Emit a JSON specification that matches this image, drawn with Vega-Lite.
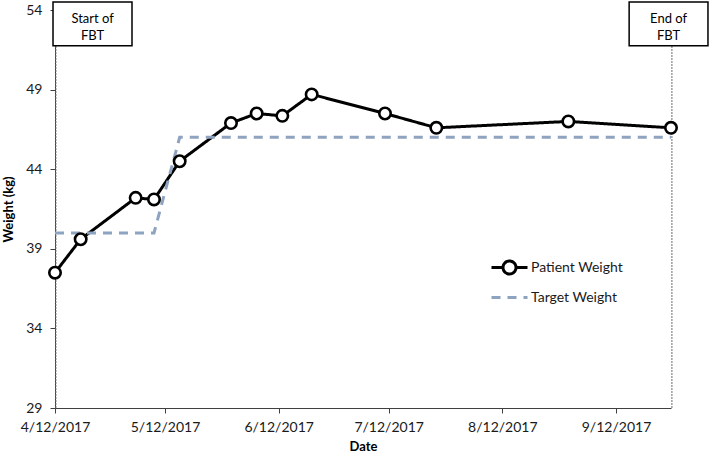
{
  "$schema": "https://vega.github.io/schema/vega-lite/v6.json",
  "width": 616,
  "height": 398,
  "autosize": "none",
  "padding": {"left": 55, "top": 10, "right": 38, "bottom": 51},
  "background": "white",
  "config": {
    "font": "Lato",
    "view": {"stroke": null},
    "axis": {
      "grid": false,
      "domainColor": "#404040",
      "domainWidth": 1,
      "tickColor": "#404040",
      "tickSize": 5,
      "labelColor": "#1a1a1a",
      "labelFont": "Lato",
      "labelFontSize": 14,
      "titleFont": "Lato",
      "titleFontSize": 13,
      "titleFontWeight": "bold",
      "titleColor": "#000000"
    }
  },
  "datasets": {
    "weights": [
      {"date": "2017/04/12", "series": "Patient Weight", "weight": 37.5},
      {"date": "2017/04/19", "series": "Patient Weight", "weight": 39.6},
      {"date": "2017/05/04", "series": "Patient Weight", "weight": 42.2},
      {"date": "2017/05/09", "series": "Patient Weight", "weight": 42.1},
      {"date": "2017/05/16", "series": "Patient Weight", "weight": 44.5},
      {"date": "2017/05/30", "series": "Patient Weight", "weight": 46.9},
      {"date": "2017/06/06", "series": "Patient Weight", "weight": 47.5},
      {"date": "2017/06/13", "series": "Patient Weight", "weight": 47.35},
      {"date": "2017/06/21", "series": "Patient Weight", "weight": 48.7},
      {"date": "2017/07/11", "series": "Patient Weight", "weight": 47.5},
      {"date": "2017/07/25", "series": "Patient Weight", "weight": 46.6},
      {"date": "2017/08/30", "series": "Patient Weight", "weight": 47.0},
      {"date": "2017/09/27", "series": "Patient Weight", "weight": 46.6},
      {"date": "2017/04/12", "series": "Target Weight", "weight": 40},
      {"date": "2017/05/09", "series": "Target Weight", "weight": 40},
      {"date": "2017/05/16", "series": "Target Weight", "weight": 46},
      {"date": "2017/09/27", "series": "Target Weight", "weight": 46}
    ]
  },
  "layer": [
    {
      "data": {"values": [{}]},
      "mark": {"type": "rule", "color": "#6a6a6a", "strokeWidth": 1, "strokeDash": [2, 1]},
      "encoding": {
        "x": {"datum": {"year": 2017, "month": 4, "date": 12, "hours": 6}, "type": "temporal"},
        "y": {"datum": 29, "type": "quantitative"},
        "y2": {"datum": 51.75}
      }
    },
    {
      "data": {"values": [{}]},
      "mark": {"type": "rule", "color": "#6a6a6a", "strokeWidth": 1, "strokeDash": [2, 1]},
      "encoding": {
        "x": {"datum": {"year": 2017, "month": 9, "date": 27, "hours": 6}, "type": "temporal"},
        "y": {"datum": 29, "type": "quantitative"},
        "y2": {"datum": 51.75}
      }
    },
    {
      "data": {"values": [{}]},
      "mark": {"type": "rect", "fill": "white", "stroke": "#000000", "strokeWidth": 1.5},
      "encoding": {
        "x": {"datum": {"year": 2017, "month": 4, "date": 11, "hours": 11}, "type": "temporal"},
        "x2": {"datum": {"year": 2017, "month": 5, "date": 3, "hours": 0}},
        "y": {"datum": 54.5, "type": "quantitative"},
        "y2": {"datum": 51.75}
      }
    },
    {
      "data": {"values": [{}]},
      "mark": {"type": "rect", "fill": "white", "stroke": "#000000", "strokeWidth": 1.5},
      "encoding": {
        "x": {"datum": {"year": 2017, "month": 9, "date": 15, "hours": 14}, "type": "temporal"},
        "x2": {"datum": {"year": 2017, "month": 10, "date": 7, "hours": 2}},
        "y": {"datum": 54.5, "type": "quantitative"},
        "y2": {"datum": 51.75}
      }
    },
    {
      "data": {"values": [{}]},
      "mark": {"type": "text", "text": ["Start of", "FBT"], "fontSize": 13, "font": "Lato", "color": "#000000", "lineHeight": 17, "baseline": "middle"},
      "encoding": {
        "x": {"datum": {"year": 2017, "month": 4, "date": 22, "hours": 6}, "type": "temporal"},
        "y": {"datum": 53.42, "type": "quantitative"}
      }
    },
    {
      "data": {"values": [{}]},
      "mark": {"type": "text", "text": ["End of", "FBT"], "fontSize": 13, "font": "Lato", "color": "#000000", "lineHeight": 17, "baseline": "middle"},
      "encoding": {
        "x": {"datum": {"year": 2017, "month": 9, "date": 26, "hours": 8}, "type": "temporal"},
        "y": {"datum": 53.42, "type": "quantitative"}
      }
    },
    {
      "data": {"name": "weights"},
      "mark": {"type": "line", "strokeWidth": 3},
      "encoding": {
        "x": {
          "field": "date",
          "type": "temporal",
          "title": "Date",
          "scale": {"domain": [{"year": 2017, "month": 4, "date": 12}, {"year": 2017, "month": 9, "date": 27}], "nice": false},
          "axis": {
            "values": [
              {"year": 2017, "month": 4, "date": 12},
              {"year": 2017, "month": 5, "date": 12},
              {"year": 2017, "month": 6, "date": 12},
              {"year": 2017, "month": 7, "date": 12},
              {"year": 2017, "month": 8, "date": 12},
              {"year": 2017, "month": 9, "date": 12}
            ],
            "format": "%-m/%-d/%Y",
            "labelFlush": false,
            "labelOverlap": false,
            "labelPadding": 7,
            "titlePadding": 6
          }
        },
        "y": {
          "field": "weight",
          "type": "quantitative",
          "title": "Weight (kg)",
          "scale": {"domain": [29, 54], "nice": false, "zero": false},
          "axis": {"values": [29, 34, 39, 44, 49, 54], "labelPadding": 8, "titlePadding": 10, "labelFlush": false}
        },
        "color": {
          "field": "series",
          "type": "nominal",
          "scale": {"domain": ["Patient Weight", "Target Weight"], "range": ["#000000", "#8EA3C0"]},
          "legend": {
            "title": null,
            "orient": "none",
            "legendX": 443,
            "legendY": 246,
            "padding": 0,
            "symbolSize": 400,
            "symbolStrokeWidth": 3,
            "symbolFillColor": "white",
            "rowPadding": 6,
            "labelOffset": 10,
            "labelFont": "Lato",
            "labelFontSize": 14,
            "labelColor": "#1a1a1a",
            "encode": {
              "symbols": {
                "update": {
                  "shape": {"signal": "datum.value === 'Patient Weight' ? 'M-1.8,0H-0.65M0.65,0H1.8M0.65,0A0.65,0.65,0,1,1,-0.65,0A0.65,0.65,0,1,1,0.65,0' : 'M-1.8,0H1.8'"},
                  "fill": {"value": "white"},
                  "strokeDash": {"signal": "datum.value === 'Patient Weight' ? [1, 0] : [14, 8]"}
                }
              }
            }
          }
        },
        "strokeDash": {
          "field": "series",
          "type": "nominal",
          "scale": {"domain": ["Patient Weight", "Target Weight"], "range": [[1, 0], [9, 7]]},
          "legend": null
        },
        "order": {"field": "series", "sort": "descending"}
      }
    },
    {
      "data": {"name": "weights"},
      "transform": [{"filter": "datum.series === 'Patient Weight'"}],
      "mark": {"type": "point", "shape": "circle", "filled": true, "fill": "white", "stroke": "#000000", "strokeWidth": 2.6, "size": 130, "opacity": 1},
      "encoding": {
        "x": {"field": "date", "type": "temporal"},
        "y": {"field": "weight", "type": "quantitative"}
      }
    }
  ]
}
